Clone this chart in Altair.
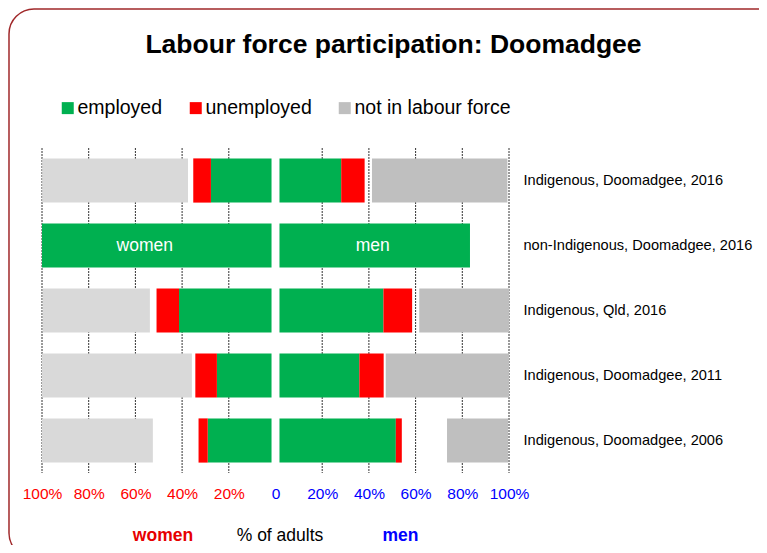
import altair as alt
import pandas as pd

# ---------------- data ----------------
rows = [
    "Indigenous, Doomadgee, 2016",
    "non-Indigenous, Doomadgee, 2016",
    "Indigenous, Qld, 2016",
    "Indigenous, Doomadgee, 2011",
    "Indigenous, Doomadgee, 2006",
]
categories = ["employed", "unemployed", "not stated", "not in labour force"]

women_employed = [26.4, 100.0, 40.3, 23.8, 27.8]
women_unemployed = [7.7, 0.0, 9.8, 9.4, 4.0]
women_not_stated = [2.3, 0.0, 2.9, 1.5, 19.9]
women_nilf = [63.5, 0.0, 46.7, 65.3, 48.3]

men_employed = [26.9, 83.0, 45.3, 34.8, 50.7]
men_unemployed = [10.2, 0.0, 12.5, 10.6, 2.6]
men_not_stated = [3.2, 17.0, 3.1, 0.9, 19.7]
men_nilf = [59.0, 0.0, 39.2, 53.7, 26.6]

x_ticks = [-100, -80, -60, -40, -20, 0, 20, 40, 60, 80, 100]
grid_ticks = [-100, -80, -60, -40, -20, 20, 40, 60, 80, 100]
legend_items = ["employed", "unemployed", "not in labour force"]

GAP = 1.7  # gap around the centre line, in axis units

# ---------------- build tables ----------------
recs = []
for sex, sign, series in [
    ("women", -1, [women_employed, women_unemployed, women_not_stated, women_nilf]),
    ("men", 1, [men_employed, men_unemployed, men_not_stated, men_nilf]),
]:
    for i, r in enumerate(rows):
        start = 0.0
        for cat, vals in zip(categories, series):
            v = vals[i]
            key = cat
            if cat == "not in labour force" and sex == "women":
                key = "nilf_w"
            recs.append(dict(row=r, sex=sex, sign=sign, cat=cat, key=key,
                             value=v, start=start, end=start + v))
            start += v
bars_df = pd.DataFrame(recs)
bars_df = bars_df[(bars_df["value"] > 0) & (bars_df["cat"] != "not stated")]

label_df = bars_df[(bars_df["row"] == rows[1]) & (bars_df["cat"] == "employed")].copy()
grid_df = pd.DataFrame({"v": grid_ticks})
one = pd.DataFrame({"a": [0]})

W, H = 467, 325
FONT = "Liberation Sans"

xscale = alt.Scale(domain=[-100, 100], nice=False, zero=False)
xaxis = alt.Axis(
    values=x_ticks,
    labelExpr="datum.value == 0 ? '0' : abs(datum.value) + '%'",
    labelColor={"condition": {"test": "datum.value < 0", "value": "#FF0000"}, "value": "#0000FF"},
    labelFontSize=15.5,
    labelFont=FONT,
    labelPadding=13,
    grid=False,
    ticks=False,
    domain=False,
    title=None,
    labelFlush=False,
    labelOverlap=False,
)
yenc = alt.Y(
    "row:N",
    sort=rows,
    scale=alt.Scale(domain=rows, paddingInner=0.32, paddingOuter=0.16),
    axis=alt.Axis(
        orient="right",
        labelFontSize=14.6,
        labelFont=FONT,
        labelColor="#000000",
        labelPadding=14,
        labelLimit=400,
        domain=False,
        ticks=False,
        grid=False,
        title=None,
    ),
)

calc = dict(
    x0="datum.sign * (%f + datum.start * (100 - %f) / 100)" % (GAP, GAP),
    x1="datum.sign * (%f + datum.end * (100 - %f) / 100)" % (GAP, GAP),
)

border = alt.Chart(one).mark_rect(
    filled=False, color="#A0282A", strokeWidth=1.5, cornerRadius=25
).encode(
    x=alt.value(-33), x2=alt.value(740), y=alt.value(-139), y2=alt.value(410)
)

grid = alt.Chart(grid_df).mark_rule(
    color="#111111", strokeWidth=1, strokeDash=[2, 1], opacity=0.85
).encode(
    x=alt.X("v:Q", scale=xscale, axis=xaxis),
    y=alt.value(0),
    y2=alt.value(H),
)

bars = alt.Chart(bars_df).transform_calculate(**calc).mark_bar().encode(
    x=alt.X("x0:Q", scale=xscale, axis=xaxis),
    x2="x1:Q",
    y=yenc,
    color=alt.Color(
        "key:N",
        scale=alt.Scale(
            domain=["employed", "unemployed", "not in labour force", "nilf_w"],
            range=["#00B050", "#FF0000", "#BFBFBF", "#D9D9D9"],
        ),
        legend=alt.Legend(
            values=legend_items,
            orient="none",
            legendX=16,
            legendY=-50,
            direction="horizontal",
            title=None,
            symbolType="square",
            symbolSize=144,
            symbolStrokeWidth=0,
            symbolOpacity=1,
            labelFontSize=19.5,
            labelFont=FONT,
            labelColor="#000000",
            labelOffset=0,
            columnPadding=23,
            padding=0,
            labelLimit=400,
        ),
    ),
)

label_women = alt.Chart(label_df[label_df["sex"] == "women"]).transform_calculate(**calc).transform_calculate(
    xm="(datum.x0 + datum.x1) / 2"
).mark_text(color="white", fontSize=17.5, font=FONT, dx=-12).encode(
    x=alt.X("xm:Q", scale=xscale, axis=xaxis), y=yenc, text="sex:N"
)
label_men = alt.Chart(label_df[label_df["sex"] == "men"]).transform_calculate(**calc).transform_calculate(
    xm="(datum.x0 + datum.x1) / 2"
).mark_text(color="white", fontSize=17.5, font=FONT, dx=-2).encode(
    x=alt.X("xm:Q", scale=xscale, axis=xaxis), y=yenc, text="sex:N"
)

title = alt.Chart(one).mark_text(
    text="Labour force participation: Doomadgee", fontSize=26.5, fontWeight="bold",
    font=FONT, color="#000000"
).encode(x=alt.value(351.5), y=alt.value(-103))

t_women = alt.Chart(one).mark_text(
    text="women", fontSize=17.5, fontWeight="bold", font=FONT, color="#E60000"
).encode(x=alt.value(121), y=alt.value(388))
t_adults = alt.Chart(one).mark_text(
    text="% of adults", fontSize=17.5, font=FONT, color="#000000"
).encode(x=alt.value(238), y=alt.value(388))
t_men = alt.Chart(one).mark_text(
    text="men", fontSize=17.5, fontWeight="bold", font=FONT, color="#0000FF"
).encode(x=alt.value(358.5), y=alt.value(388))

chart = alt.layer(
    border, grid, bars, label_women, label_men, title, t_women, t_adults, t_men
).properties(
    width=W,
    height=H,
    autosize=alt.AutoSizeParams(type="none"),
    padding={"left": 34, "top": 140, "right": 250, "bottom": 72},
    background="white",
).configure_view(strokeWidth=0)

chart.save("out.html", embed_options={"renderer": "svg", "actions": False})
